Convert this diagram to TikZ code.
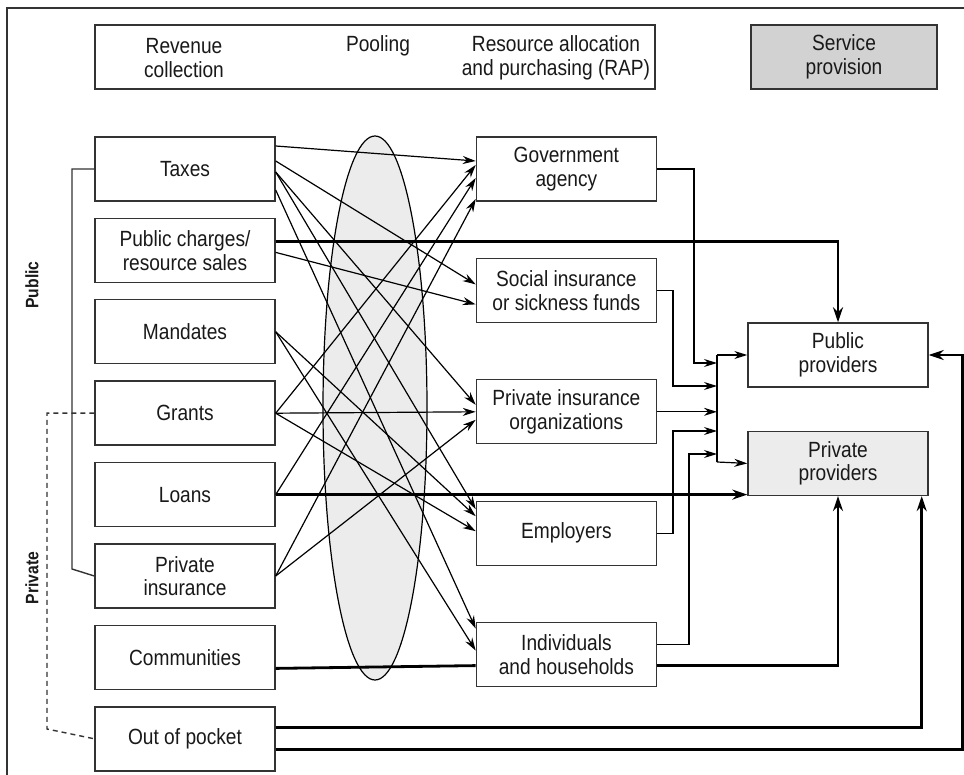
\documentclass[tikz,border=0pt]{standalone}
\usepackage{fontspec}
\setmainfont{Liberation Sans}[FakeStretch=0.87]
\usetikzlibrary{positioning, arrows.meta}
\tikzset{
>={Stealth[length=13pt, width=8pt]}, % filled arrow heads
box/.style={draw=black!80, line width=1.4pt, fill=white, minimum width=180pt, minimum height=64pt, align=center, inner sep=2pt, text=black!90, font=\fontsize{22}{23.5}\selectfont}, % every box of the scheme
shaded/.style={box, fill=gray!15}, % private providers
stage/.style={align=center, text=black!90, font=\fontsize{22}{23.5}\selectfont}, % headings in the top box
side/.style={rotate=90, text=black!90, font=\bfseries\fontsize{18}{20}\selectfont}, % public / private
flow/.style={->, line width=1.2pt}, % thin connectors
money/.style={-{Stealth[length=15pt, width=10pt]}, line width=2.8pt}, % thick connectors
frame/.style={draw=black!80, line width=1.4pt},
}
\begin{document}
\begin{tikzpicture}[x=1pt, y=-1pt]
    \useasboundingbox (0,0) rectangle (964,775);
    \draw[frame] (7,775) -- (7,8) -- (964,8);

    \node[box, minimum width=560pt] (stages) at (375,57) {};
    \node[stage] (revenue) at (184,58) {Revenue\\collection};
    \node[stage] (pooling) at (378,46) {Pooling};
    \node[stage] (rap) at (556,58) {Resource allocation\\and purchasing (RAP)};
    \node[box, fill=gray!35, minimum width=186pt] (service) at (844,57) {Service\\provision};

    \draw[line width=1.2pt, fill=gray!15] (375,408) ellipse [x radius=52, y radius=272];

    \node[box] (taxes) at (185,169) {Taxes};
    \node[box, below=16pt of taxes] (charges) {Public charges/\\resource sales};
    \node[box, below=16pt of charges] (mandates) {Mandates};
    \node[box, below=16pt of mandates] (grants) {Grants};
    \node[box, below=16pt of grants] (loans) {Loans};
    \node[box, below=16pt of loans] (privins) {Private\\insurance};
    \node[box, below=16pt of privins] (communities) {Communities};
    \node[box, below=16pt of communities] (pocket) {Out of pocket};

    \node[box, right=200pt of taxes] (gov) {Government\\agency};
    \node[box, below=56pt of gov] (social) {Social insurance\\or sickness funds};
    \node[box, below=56pt of social] (pio) {Private insurance\\organizations};
    \node[box, below=56pt of pio] (employers) {Employers};
    \node[box, below=56pt of employers] (households) {Individuals\\and households};

    \node[box] (pubprov) at (838,355) {Public\\providers};
    \node[shaded, below=43pt of pubprov] (privprov) {Private\\providers};

    \node[side] (publab) at (32,285) {Public};
    \node[side] (privlab) at (32,578) {Private};

    \draw[frame] (taxes.west) -| (72,569) -- (privins.west);
    \draw[frame, dash pattern=on 5pt off 4pt] (grants.west) -| (47,729) -- (pocket.west);

    \path[flow]
    ([yshift=23pt]taxes.east) edge ([yshift=8pt]gov.west)
    ([yshift=8pt]taxes.east) edge ([yshift=6pt]social.west)
    ([yshift=-3pt]taxes.east) edge ([yshift=7pt]pio.west)
    ([yshift=-3pt]taxes.east) edge ([yshift=24pt]employers.west)
    ([yshift=-21pt]taxes.east) edge ([yshift=26pt]households.west)
    ([yshift=-2pt]charges.east) edge ([yshift=-14pt]social.west)
    (mandates.east) edge ([yshift=17pt]employers.west)
    (mandates.east) edge ([yshift=4pt]households.west)
    (grants.east) edge ([yshift=4pt]gov.west)
    (grants.east) edge (pio.west)
    (grants.east) edge ([yshift=2pt]employers.west)
    (loans.east) edge ([yshift=-9pt]gov.west)
    (privins.east) edge ([yshift=-30pt]gov.west)
    (privins.east) edge ([yshift=-8pt]pio.west);

    \coordinate (busT) at (717,355);
    \coordinate (busB) at (717,462);
    \draw[flow] (gov.east) -| (694,363) -- (busT |- 0,363);
    \draw[flow] (social.east) -| (673,386) -- (busT |- 0,386);
    \draw[flow] (pio.east) -- (busT |- pio.east);
    \draw[flow] (employers.east) -| (673,431) -- (busT |- 0,431);
    \draw[flow] ([yshift=10pt]households.east) -| (689,454) -- (busT |- 0,454);
    \draw[line width=1.2pt] (busT) -- (busB);
    \draw[flow] (busT) -- (pubprov.west);
    \draw[flow] (busB) -- (privprov.west);

    \draw[money] ([yshift=9pt]charges.east) -| (pubprov.north);
    \draw[money] (loans.east) -- (loans.east -| privprov.west);
    \draw[money, -] ([yshift=-11pt]communities.east) -- ([yshift=-11pt]households.west);
    \draw[money] ([yshift=-11pt]households.east) -| (privprov.south);
    \draw[money] ([yshift=11pt]pocket.east) -| ([xshift=-7pt]privprov.south east);
    \draw[money] ([yshift=-11pt]pocket.east) -| ([xshift=34pt]pubprov.east) -- (pubprov.east);
\end{tikzpicture}
\end{document}
